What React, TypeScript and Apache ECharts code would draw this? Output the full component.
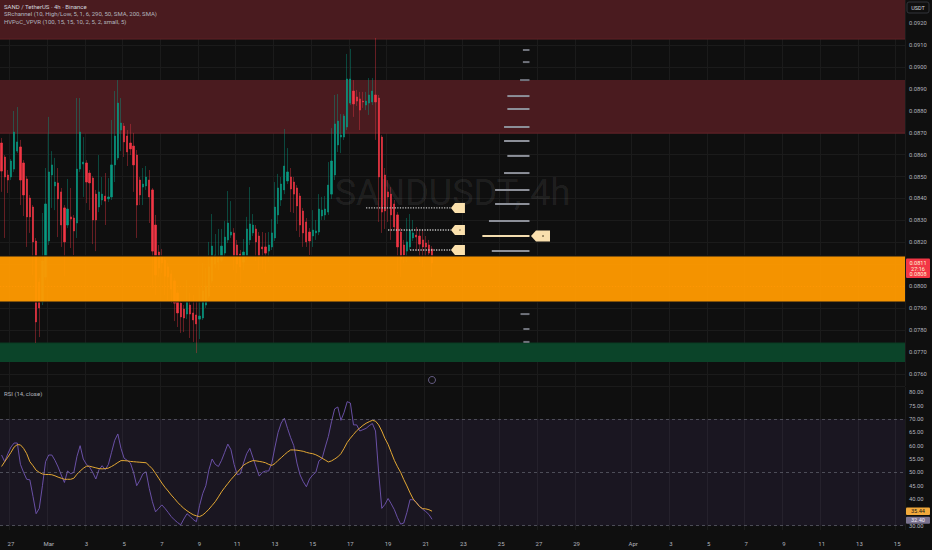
import React, { useEffect, useRef } from "react";
import * as echarts from "echarts";

const FONT = "Roboto, 'Noto Sans', sans-serif";
const BG = "#0f0f0f";
const GRID_LINE = "#1b1b1b";
const AXIS_TEXT = "#b2b5be";
const UP = "#089981";
const DOWN = "#f23645";
const UP_WICK = "rgba(8,153,129,0.42)";
const DOWN_WICK = "rgba(242,54,69,0.38)";

// ---- time slots (4h bars) ----
const FIRST_BAR_UTC = Date.UTC(2025, 1, 26, 12);
const BAR_HOURS = 4;
const BAR_SLOTS = 288;

const tickDates = [
  "2025-02-27", "2025-03-01", "2025-03-03", "2025-03-05", "2025-03-07", "2025-03-09",
  "2025-03-11", "2025-03-13", "2025-03-15", "2025-03-17", "2025-03-19", "2025-03-21",
  "2025-03-23", "2025-03-25", "2025-03-27", "2025-03-29", "2025-04-01", "2025-04-03",
  "2025-04-05", "2025-04-07", "2025-04-09", "2025-04-11", "2025-04-13", "2025-04-15",
];
const tickLabels = [
  "27", "Mar", "3", "5", "7", "9", "11", "13", "15", "17", "19", "21",
  "23", "25", "27", "29", "Apr", "3", "5", "7", "9", "11", "13", "15",
];

// ---- OHLC ----
const opens = [
  0.08653, 0.08589, 0.08507, 0.08498, 0.08534, 0.08616, 0.08635, 0.08562, 0.08489, 0.08402,
  0.08361, 0.08206, 0.08019, 0.07928, 0.08042, 0.08206, 0.08507, 0.08457, 0.08471, 0.0843,
  0.08357, 0.08279, 0.08316, 0.08311, 0.08288, 0.08534, 0.08557, 0.08562, 0.08516, 0.08493,
  0.0842, 0.08361, 0.08393, 0.08411, 0.08398, 0.08407, 0.08553, 0.08585, 0.08712, 0.0873,
  0.08685, 0.08653, 0.08639, 0.08598, 0.08484, 0.08452, 0.08457, 0.08484, 0.08439, 0.08279,
  0.08156, 0.08133, 0.08119, 0.08088, 0.08056, 0.08024, 0.07969, 0.07923, 0.07896, 0.07873,
  0.07914, 0.07878, 0.07869, 0.0785, 0.07855, 0.07914, 0.07955, 0.08024, 0.08101, 0.0811,
  0.08119, 0.08151, 0.08211, 0.08233, 0.08243, 0.08188, 0.08147, 0.0811, 0.08138, 0.08211,
  0.08243, 0.08261, 0.08229, 0.08179, 0.08179, 0.0816, 0.08179, 0.0822, 0.08325, 0.08393,
  0.08439, 0.0848, 0.08498, 0.08475, 0.08448, 0.08411, 0.08343, 0.08293, 0.08247, 0.08229,
  0.08243, 0.08247, 0.0832, 0.08325, 0.08338, 0.0842, 0.08507, 0.08644, 0.0868, 0.0868,
  0.08726, 0.08835, 0.0889, 0.08863, 0.08854, 0.08844, 0.08826, 0.08835, 0.0884, 0.08872,
  0.08858, 0.0868, 0.08507, 0.0843, 0.0842, 0.08375, 0.08325, 0.08247, 0.08188, 0.0816,
  0.08179, 0.0822, 0.08233, 0.08229, 0.08211, 0.08197, 0.08188, 0.0817,
];
const closes = [
  0.08525, 0.08498, 0.08484, 0.08571, 0.08703, 0.08658, 0.08484, 0.08416, 0.08316, 0.08316,
  0.08202, 0.07837, 0.07901, 0.08115, 0.08375, 0.08521, 0.08553, 0.08475, 0.08398, 0.08279,
  0.08202, 0.08352, 0.08306, 0.08252, 0.08534, 0.08703, 0.08566, 0.08475, 0.08471, 0.08302,
  0.08302, 0.0843, 0.0842, 0.08388, 0.08407, 0.08553, 0.08685, 0.08835, 0.08744, 0.08658,
  0.08612, 0.08626, 0.08553, 0.0837, 0.08416, 0.08466, 0.08498, 0.08407, 0.0816, 0.08051,
  0.08083, 0.08106, 0.08046, 0.08042, 0.07987, 0.07923, 0.07878, 0.0786, 0.07855, 0.07928,
  0.07873, 0.07846, 0.07828, 0.07864, 0.07978, 0.08001, 0.08088, 0.08183, 0.08142, 0.08129,
  0.08183, 0.08224, 0.08288, 0.08247, 0.08133, 0.08101, 0.08088, 0.08156, 0.08261, 0.08284,
  0.08279, 0.08202, 0.08133, 0.0817, 0.08151, 0.08188, 0.08243, 0.08361, 0.08448, 0.08466,
  0.08548, 0.08521, 0.08443, 0.0842, 0.08366, 0.08279, 0.08243, 0.08202, 0.08206, 0.08256,
  0.08252, 0.08352, 0.08347, 0.08352, 0.08461, 0.08571, 0.0874, 0.08753, 0.08689, 0.08776,
  0.08945, 0.08945, 0.08831, 0.08844, 0.08803, 0.0884, 0.08844, 0.08872, 0.0889, 0.0884,
  0.08498, 0.08338, 0.08343, 0.08407, 0.08325, 0.0827, 0.08179, 0.08124, 0.08142, 0.08202,
  0.08256, 0.08243, 0.08224, 0.08192, 0.08179, 0.08179, 0.08151, 0.08106,
];
const lows = [
  0.0843, 0.0822, 0.08425, 0.08484, 0.08521, 0.08607, 0.0837, 0.0832, 0.08179, 0.08243,
  0.08051, 0.07741, 0.07768, 0.07914, 0.08028, 0.08188, 0.08357, 0.08347, 0.08224, 0.08179,
  0.08046, 0.08265, 0.08174, 0.08142, 0.0822, 0.08521, 0.08407, 0.08379, 0.08347, 0.08192,
  0.0816, 0.08338, 0.0837, 0.08279, 0.08384, 0.08393, 0.08475, 0.08575, 0.08616, 0.08589,
  0.08548, 0.08598, 0.0843, 0.0822, 0.0837, 0.0837, 0.08439, 0.08288, 0.07992, 0.0796,
  0.08042, 0.0806, 0.0796, 0.07937, 0.07923, 0.07841, 0.07814, 0.07787, 0.07791, 0.0785,
  0.07764, 0.07746, 0.07695, 0.07759, 0.07846, 0.07901, 0.07946, 0.08015, 0.08083, 0.08074,
  0.0811, 0.08138, 0.08197, 0.0822, 0.08074, 0.0806, 0.08015, 0.08074, 0.08119, 0.08188,
  0.08229, 0.08115, 0.08074, 0.08078, 0.0806, 0.0811, 0.08165, 0.08206, 0.08284, 0.08366,
  0.0842, 0.08466, 0.08338, 0.08334, 0.08252, 0.08224, 0.08179, 0.08179, 0.08142, 0.08179,
  0.08211, 0.08233, 0.08302, 0.08302, 0.08325, 0.08398, 0.08484, 0.08612, 0.08607, 0.08667,
  0.08712, 0.08826, 0.08772, 0.08822, 0.08712, 0.08813, 0.08803, 0.08781, 0.08826, 0.08667,
  0.08293, 0.08243, 0.08261, 0.08293, 0.08211, 0.08256, 0.0806, 0.08042, 0.08106, 0.0811,
  0.08165, 0.08206, 0.0816, 0.0811, 0.08088, 0.08133, 0.08142, 0.08042,
];
const highs = [
  0.08676, 0.08598, 0.0853, 0.0858, 0.08799, 0.08817, 0.08667, 0.08575, 0.08502, 0.08416,
  0.0837, 0.0822, 0.08037, 0.08334, 0.08539, 0.08772, 0.08616, 0.08585, 0.08539, 0.08448,
  0.0837, 0.08489, 0.08448, 0.08325, 0.08858, 0.08858, 0.0868, 0.08575, 0.0853, 0.08502,
  0.08439, 0.08598, 0.08498, 0.08516, 0.08493, 0.08758, 0.0889, 0.0894, 0.08858, 0.08744,
  0.08712, 0.0874, 0.08699, 0.08621, 0.08498, 0.08539, 0.08548, 0.0853, 0.08448, 0.08325,
  0.08188, 0.0817, 0.08133, 0.08106, 0.08074, 0.08037, 0.07983, 0.07937, 0.07914, 0.08028,
  0.07969, 0.0796, 0.07937, 0.07996, 0.08106, 0.08083, 0.08202, 0.08329, 0.08238, 0.08261,
  0.08261, 0.08297, 0.08434, 0.08388, 0.08265, 0.08211, 0.08165, 0.08215, 0.08316, 0.08452,
  0.08329, 0.08279, 0.08247, 0.08247, 0.08243, 0.08247, 0.08306, 0.08475, 0.08512, 0.08498,
  0.08717, 0.0863, 0.08539, 0.08498, 0.08461, 0.08425, 0.08357, 0.08311, 0.08265, 0.08347,
  0.08302, 0.0842, 0.08407, 0.08411, 0.08566, 0.08721, 0.08872, 0.08876, 0.08785, 0.08785,
  0.09059, 0.09082, 0.0894, 0.08895, 0.08886, 0.08886, 0.08886, 0.08949, 0.08949, 0.09132,
  0.08872, 0.08689, 0.08539, 0.08484, 0.08452, 0.08393, 0.08338, 0.08265, 0.08211, 0.08311,
  0.08329, 0.08302, 0.0827, 0.08261, 0.08256, 0.08229, 0.08211, 0.08183,
];

// ---- RSI (14, close) and its SMA ----
const rsiValues = [
  56.5, 54, 57, 59.5, 61, 61, 53, 50, 47.4, 47.2,
  41, 34.5, 36.5, 45, 54, 56.5, 56.5, 54.5, 52, 49,
  46.2, 50.5, 49.5, 50, 56, 60, 55, 53, 52, 50,
  47.5, 51, 52.5, 51, 53, 57.5, 62, 64.4, 59, 55.3,
  54.5, 53.5, 50, 45, 47, 49.5, 50.2, 44, 39, 35.2,
  36.5, 37.8, 36.5, 35, 33.4, 32.2, 31.2, 30.3, 32.5, 34.5,
  33.5, 32.3, 31.5, 37.5, 42, 45, 51, 55, 53, 52.2,
  54.5, 57.5, 60.6, 58.5, 53, 49.1, 49.5, 53.5, 57, 59,
  55.5, 52, 48.6, 50, 50.5, 50.5, 53.5, 59.5, 65, 68.5,
  70.3, 66.5, 63, 60, 53.5, 49, 46.5, 44.6, 47.5, 49,
  50, 54.3, 55.2, 59.5, 63.5, 69, 73.8, 74.5, 69.5, 72.5,
  76.5, 76, 67.8, 67.8, 65.5, 66, 66.5, 67.5, 68.3, 65.5,
  50, 36.5, 38, 40.2, 38.2, 36, 33, 30.6, 31, 35,
  39.8, 39.7, 38.8, 37.2, 36.2, 35.3, 34.2, 32.4,
];
const rsiMaValues = [
  52.2, 54, 55.7, 57.5, 59.5, 60.4, 60.3, 59, 57, 54,
  52.5, 50.8, 50, 49.4, 49.2, 49.2, 49.1, 48.7, 48.2, 47.8,
  47.4, 47.4, 47.4, 47.8, 49.3, 50.5, 51.5, 52.3, 52.3, 52,
  51.7, 51.4, 51.3, 51.4, 51.6, 52.2, 52.9, 53.7, 54.4, 54.4,
  54.3, 54.1, 54, 53.9, 53.8, 53.7, 53.6, 52.5, 51.3, 49.6,
  47.8, 46, 44.4, 43, 41.5, 40.2, 38.8, 37.6, 36.5, 35.6,
  34.8, 34.1, 33.7, 33.4, 34, 35, 36.2, 37.6, 39, 40.8,
  42.7, 44.3, 45.8, 47.3, 48.6, 50, 51.3, 52.7, 53.4, 54,
  54.4, 54.3, 54.1, 53.9, 53.6, 53, 52.6, 53.3, 54.5, 55.5,
  56.6, 57.6, 58.4, 58.4, 58.3, 58.1, 57.9, 57.5, 57.2, 57,
  56.6, 56, 55.3, 54.6, 53.9, 54.3, 55, 55.8, 57, 59,
  61.2, 62.8, 64.2, 65.6, 66.6, 67.6, 68.4, 69, 69.5, 69.2,
  67.8, 65.5, 62.7, 60.5, 57.5, 54.5, 52.1, 50, 47.3, 44.9,
  42.3, 40, 38.6, 37.2, 36.4, 36.3, 36, 35.44,
];
const rsiBandLevels = [30, 50, 70];

// ---- zones (SRchannel) ----
const resistanceZoneLows = [0.09127, 0.08698];
const resistanceZoneHighs = [0.0935, 0.0894];
const supportZone = [0.07654, 0.07741];
const activeZone = [0.07928, 0.08138];

// ---- volume profile (HVPoC_VPVR) ----
const vpvrPrices = [
  0.09077, 0.09022, 0.0894, 0.08867, 0.08808, 0.08726, 0.08662, 0.08594, 0.08516,
  0.08439, 0.08375, 0.08297, 0.08229, 0.0816, 0.07873, 0.07805, 0.07746,
];
const vpvrVolumes = [14, 14, 20, 47, 47, 54, 54, 47, 54, 73, 73, 86, 100, 80, 19, 13, 13];
const VPVR_RIGHT_BAR = 168;
const VPVR_MAX_BARS = 15;

// ---- HV levels ----
const levelPrices = [0.08357, 0.08256, 0.08165];
const levelStartBars = [116, 123, 130];
const LEVEL_END_BAR = 143;

const legendLines = [
  "SAND / TetherUS · 4h · Binance",
  "SRchannel (10, High/Low, 5, 1, 6, 290, 50, SMA, 200, SMA)",
  "HVPoC_VPVR (100, 15, 15, 10, 2, 5, 2, small, 5)",
];
const watermarkText = "SANDUSDT, 4h";
const rsiTitle = "RSI (14, close)";
const countdownText = "27:16";
const secondaryPrice = 0.0808;
const currencyText = "USDT";

// ---- layout ----
const W = 932;
const PLOT_RIGHT = 905;
const MAIN_TOP = 0;
const MAIN_H = 386;
const RSI_TOP = 387;
const RSI_H = 143;

const pad = (n: number) => String(n).padStart(2, "0");
const categories = Array.from({ length: BAR_SLOTS }, (_, i) => {
  const d = new Date(FIRST_BAR_UTC + i * BAR_HOURS * 3600000);
  return `${d.getUTCFullYear()}-${pad(d.getUTCMonth() + 1)}-${pad(d.getUTCDate())} ${pad(d.getUTCHours())}:00`;
});
const tickMap = new Map<string, string>(tickDates.map((d, i) => [d + " 00:00", tickLabels[i]]));
const isTick = (_i: number, v: string) => tickMap.has(v);

const candles = opens.map((o, i) => [o, closes[i], lows[i], highs[i]]);
const bodies = opens.map((o, i) => [o, closes[i], Math.min(o, closes[i]), Math.max(o, closes[i])]);
const maxVol = Math.max(...vpvrVolumes);
const lastClose = closes[closes.length - 1];
const lastRsi = rsiValues[rsiValues.length - 1];
const lastMa = rsiMaValues[rsiMaValues.length - 1];

const backZones = [
  [resistanceZoneLows[0], resistanceZoneHighs[0]],
  [resistanceZoneLows[1], resistanceZoneHighs[1]],
  supportZone,
];
const backZoneStyles = [
  { fill: "#4a1b1f", edge: "#5f2226", edgeAt: "bottom" },
  { fill: "#4a1b1f", edge: "#66242a", edgeAt: "bottom" },
  { fill: "#0b4429", edge: "#0a3a23", edgeAt: "top" },
];

function txt(x: number, y: number, text: string, fill: string, fontSize: number, align = "left") {
  return {
    type: "text",
    x,
    y,
    z: 100,
    silent: true,
    style: {
      text,
      fill,
      fontSize,
      fontFamily: FONT,
      textAlign: align,
      textVerticalAlign: "middle",
      align,
      verticalAlign: "middle",
    },
  };
}

export default function App() {
  const ref = useRef<HTMLDivElement>(null);

  useEffect(() => {
    if (!ref.current) return;
    const chart = echarts.init(ref.current, null, { renderer: "svg" });

    // labels hidden behind the last-value boxes on the price scales
    const lastPriceTick = Math.round(lastClose * 1000) / 1000;
    const lastMaTick = Math.round(lastMa / 5) * 5;

    const option: any = {
      animation: false,
      backgroundColor: BG,
      textStyle: { fontFamily: FONT },
      grid: [
        { left: -1, right: W - PLOT_RIGHT, top: MAIN_TOP, height: MAIN_H, containLabel: false },
        { left: -1, right: W - PLOT_RIGHT, top: RSI_TOP, height: RSI_H, containLabel: false },
      ],
      xAxis: [
        {
          type: "category",
          gridIndex: 0,
          data: categories,
          boundaryGap: true,
          axisLine: { show: false },
          axisTick: { show: false },
          axisLabel: { show: false },
          splitLine: { show: true, interval: isTick, lineStyle: { color: GRID_LINE, width: 1 } },
        },
        { type: "value", gridIndex: 0, min: -0.5, max: BAR_SLOTS - 0.5, show: false },
        {
          type: "category",
          gridIndex: 1,
          data: categories,
          boundaryGap: true,
          axisLine: { show: false },
          axisTick: { show: false },
          axisLabel: {
            interval: isTick,
            formatter: (v: string) => tickMap.get(v) ?? "",
            color: AXIS_TEXT,
            fontSize: 6,
            fontFamily: FONT,
            margin: 10,
          },
          splitLine: { show: true, interval: isTick, lineStyle: { color: GRID_LINE, width: 1 } },
        },
      ],
      yAxis: [
        {
          type: "value",
          gridIndex: 0,
          position: "right",
          min: 0.07545,
          max: 0.09305,
          minInterval: 0.001,
          maxInterval: 0.001,
          axisLine: { show: false },
          axisTick: { show: false },
          axisLabel: {
            showMinLabel: false,
            showMaxLabel: false,
            formatter: (v: number) =>
              v > 0.0925 || Math.abs(v - lastPriceTick) < 1e-7 ? "" : v.toFixed(4),
            color: AXIS_TEXT,
            fontSize: 5.8,
            fontFamily: FONT,
            margin: 4,
          },
          splitLine: { show: true, lineStyle: { color: GRID_LINE, width: 1 } },
        },
        {
          type: "value",
          gridIndex: 1,
          position: "right",
          min: 28.39,
          max: 82,
          minInterval: 5,
          maxInterval: 5,
          axisLine: { show: false },
          axisTick: { show: false },
          axisLabel: {
            showMinLabel: false,
            showMaxLabel: false,
            formatter: (v: number) => (Math.abs(v - lastMaTick) < 1e-7 ? "" : v.toFixed(2)),
            color: AXIS_TEXT,
            fontSize: 5.8,
            fontFamily: FONT,
            margin: 4,
          },
          splitLine: { show: false },
        },
      ],
      series: [
        {
          name: "zones",
          type: "custom",
          xAxisIndex: 1,
          yAxisIndex: 0,
          z: 1,
          silent: true,
          clip: true,
          data: backZones,
          renderItem: (params: any, api: any) => {
            const cs = params.coordSys;
            const yHi = api.coord([0, api.value(1)])[1];
            const yLo = api.coord([0, api.value(0)])[1];
            const st = backZoneStyles[params.dataIndex];
            const ey = st.edgeAt === "bottom" ? yLo : yHi;
            return {
              type: "group",
              children: [
                { type: "rect", shape: { x: cs.x, y: yHi, width: cs.width, height: yLo - yHi }, style: { fill: st.fill } },
                { type: "line", shape: { x1: cs.x, y1: ey, x2: cs.x + cs.width, y2: ey }, style: { stroke: st.edge, lineWidth: 1 } },
              ],
            };
          },
        },
        {
          name: "wicks",
          type: "candlestick",
          xAxisIndex: 0,
          yAxisIndex: 0,
          z: 2,
          silent: true,
          barWidth: 1,
          data: candles,
          itemStyle: { color: UP_WICK, color0: DOWN_WICK, borderColor: UP_WICK, borderColor0: DOWN_WICK, borderWidth: 1 },
        },
        {
          name: "SAND / TetherUS",
          type: "candlestick",
          xAxisIndex: 0,
          yAxisIndex: 0,
          z: 3,
          silent: true,
          barWidth: 1.7,
          data: bodies,
          itemStyle: { color: UP, color0: DOWN, borderColor: UP, borderColor0: DOWN, borderWidth: 0.6 },
          markLine: {
            silent: true,
            symbol: ["none", "none"],
            label: { show: false },
            lineStyle: { color: DOWN, type: [1, 2], width: 1 },
            data: [{ yAxis: lastClose }],
          },
        },
        {
          name: "vpvr",
          type: "custom",
          xAxisIndex: 1,
          yAxisIndex: 0,
          z: 4,
          silent: true,
          data: vpvrPrices.map((p, i) => [vpvrVolumes[i], p]),
          renderItem: (_params: any, api: any) => {
            const vol = api.value(0);
            const price = api.value(1);
            const right = api.coord([VPVR_RIGHT_BAR, price]);
            const left = api.coord([VPVR_RIGHT_BAR - (vol / maxVol) * VPVR_MAX_BARS, price]);
            const poc = vol === maxVol;
            const y = right[1];
            const children: any[] = [
              {
                type: "line",
                shape: { x1: left[0], y1: y, x2: right[0], y2: y },
                style: { stroke: poc ? "#f3dcae" : vol < 25 ? "#6f727b" : "#8c8f98", lineWidth: 2 },
              },
            ];
            if (poc) {
              const x0 = right[0] + 1.5;
              children.push({
                type: "polygon",
                shape: { points: [[x0, y], [x0 + 5, y - 5.5], [x0 + 19, y - 5.5], [x0 + 19, y + 5.5], [x0 + 5, y + 5.5]] },
                style: { fill: "#f9dfae" },
              });
              children.push({ type: "circle", shape: { cx: x0 + 12, cy: y, r: 0.8 }, style: { fill: "#6a5a3a" } });
            }
            return { type: "group", children };
          },
        },
        {
          name: "activeZone",
          type: "custom",
          xAxisIndex: 1,
          yAxisIndex: 0,
          z: 10,
          silent: true,
          data: [activeZone],
          renderItem: (params: any, api: any) => {
            const cs = params.coordSys;
            const yHi = api.coord([0, api.value(1)])[1];
            const yLo = api.coord([0, api.value(0)])[1];
            return {
              type: "group",
              children: [
                { type: "rect", shape: { x: cs.x, y: yHi, width: cs.width, height: yLo - yHi }, style: { fill: "rgba(255,154,0,0.955)" } },
                { type: "line", shape: { x1: cs.x, y1: yHi, x2: cs.x + cs.width, y2: yHi }, style: { stroke: "#151515", lineWidth: 1.2 } },
                { type: "line", shape: { x1: cs.x, y1: yLo, x2: cs.x + cs.width, y2: yLo }, style: { stroke: "#151515", lineWidth: 1.2 } },
              ],
            };
          },
        },
        {
          name: "levels",
          type: "custom",
          xAxisIndex: 1,
          yAxisIndex: 0,
          z: 12,
          silent: true,
          data: levelPrices.map((p, i) => [levelStartBars[i], p]),
          renderItem: (_params: any, api: any) => {
            const price = api.value(1);
            const s = api.coord([api.value(0), price]);
            const e = api.coord([LEVEL_END_BAR, price]);
            const y = s[1];
            const x0 = e[0];
            return {
              type: "group",
              children: [
                { type: "line", shape: { x1: s[0], y1: y, x2: x0, y2: y }, style: { stroke: "#c9c9c9", lineWidth: 1.4, lineDash: [1.2, 1.4] } },
                {
                  type: "polygon",
                  shape: { points: [[x0, y], [x0 + 4, y - 5], [x0 + 14, y - 5], [x0 + 14, y + 5], [x0 + 4, y + 5]] },
                  style: { fill: "#fbe1ad" },
                },
                { type: "circle", shape: { cx: x0 + 9, cy: y, r: 0.7 }, style: { fill: "#6a5a3a" } },
              ],
            };
          },
        },
        {
          name: "rsiBand",
          type: "custom",
          xAxisIndex: 2,
          yAxisIndex: 1,
          z: 1,
          silent: true,
          data: [[rsiBandLevels[0], rsiBandLevels[2]]],
          renderItem: (params: any, api: any) => {
            const cs = params.coordSys;
            const yHi = api.coord([0, api.value(1)])[1];
            const yLo = api.coord([0, api.value(0)])[1];
            return { type: "rect", shape: { x: cs.x, y: yHi, width: cs.width, height: yLo - yHi }, style: { fill: "rgba(126,87,194,0.1)" } };
          },
        },
        {
          name: "RSI",
          type: "line",
          xAxisIndex: 2,
          yAxisIndex: 1,
          z: 3,
          silent: true,
          symbol: "none",
          data: rsiValues,
          lineStyle: { color: "#7256b4", width: 1, opacity: 0.9 },
          markLine: {
            silent: true,
            symbol: ["none", "none"],
            label: { show: false },
            lineStyle: { color: "rgba(120,123,134,0.55)", type: [3, 3], width: 1 },
            data: rsiBandLevels.map((v) => ({ yAxis: v })),
          },
        },
        {
          name: "RSI-based MA",
          type: "line",
          xAxisIndex: 2,
          yAxisIndex: 1,
          z: 4,
          silent: true,
          symbol: "none",
          data: rsiMaValues,
          lineStyle: { color: "#e3a834", width: 1 },
        },
      ],
    };

    chart.setOption(option);

    const yLast = chart.convertToPixel({ yAxisIndex: 0 }, lastClose) as number;
    const yMa = chart.convertToPixel({ yAxisIndex: 1 }, lastMa) as number;
    const yRsi = chart.convertToPixel({ yAxisIndex: 1 }, lastRsi) as number;
    const bx = PLOT_RIGHT + 1;
    const bw = 24;

    const graphic: any[] = [
      {
        type: "text",
        x: PLOT_RIGHT / 2,
        y: MAIN_TOP + MAIN_H / 2,
        z: 0,
        silent: true,
        style: {
          text: watermarkText,
          fill: "rgba(255,255,255,0.085)",
          fontSize: 36,
          fontFamily: FONT,
          textAlign: "center",
          textVerticalAlign: "middle",
          align: "center",
          verticalAlign: "middle",
        },
      },
      ...legendLines.map((t, i) => txt(4, 6 + i * 7.5, t, i === 0 ? "#d1d4dc" : AXIS_TEXT, 6)),
      txt(4, RSI_TOP + 6, rsiTitle, AXIS_TEXT, 6),
      {
        type: "circle",
        z: 100,
        silent: true,
        shape: { cx: 432, cy: 380, r: 3.5 },
        style: { fill: "none", stroke: "#7a6ea0", lineWidth: 0.8 },
      },
      {
        type: "rect",
        z: 100,
        silent: true,
        shape: { x: bx + 1, y: 2, width: bw - 2, height: 11, r: 2 },
        style: { fill: BG, stroke: "#3a3d45", lineWidth: 0.8 },
      },
      txt(bx + bw / 2, 7.5, currencyText, "#d1d4dc", 5.5, "center"),
      {
        type: "rect",
        z: 100,
        silent: true,
        shape: { x: bx, y: yLast - 4.5, width: bw, height: 19.5, r: 1 },
        style: { fill: DOWN },
      },
      txt(bx + bw / 2, yLast, lastClose.toFixed(4), "#fff3d6", 5.6, "center"),
      txt(bx + bw / 2, yLast + 6, countdownText, "#fff3d6", 5.6, "center"),
      txt(bx + bw / 2, yLast + 11.5, secondaryPrice.toFixed(4), "#fff3d6", 5.6, "center"),
      {
        type: "rect",
        z: 100,
        silent: true,
        shape: { x: bx, y: yMa - 3.8, width: bw, height: 7.6, r: 1 },
        style: { fill: "#f2a93b" },
      },
      txt(bx + bw / 2, yMa, lastMa.toFixed(2), "#1a1a1a", 5.6, "center"),
      {
        type: "rect",
        z: 100,
        silent: true,
        shape: { x: bx, y: yRsi + 1 - 3.5, width: bw, height: 7, r: 1 },
        style: { fill: "#7b7390" },
      },
      txt(bx + bw / 2, yRsi + 1, lastRsi.toFixed(2), "#ece8f5", 5.6, "center"),
    ];
    chart.setOption({ graphic });

    return () => chart.dispose();
  }, []);

  return (
    <div
      ref={ref}
      style={{ position: "fixed", left: 0, top: 0, width: W + "px", height: "550px", background: BG }}
    />
  );
}
